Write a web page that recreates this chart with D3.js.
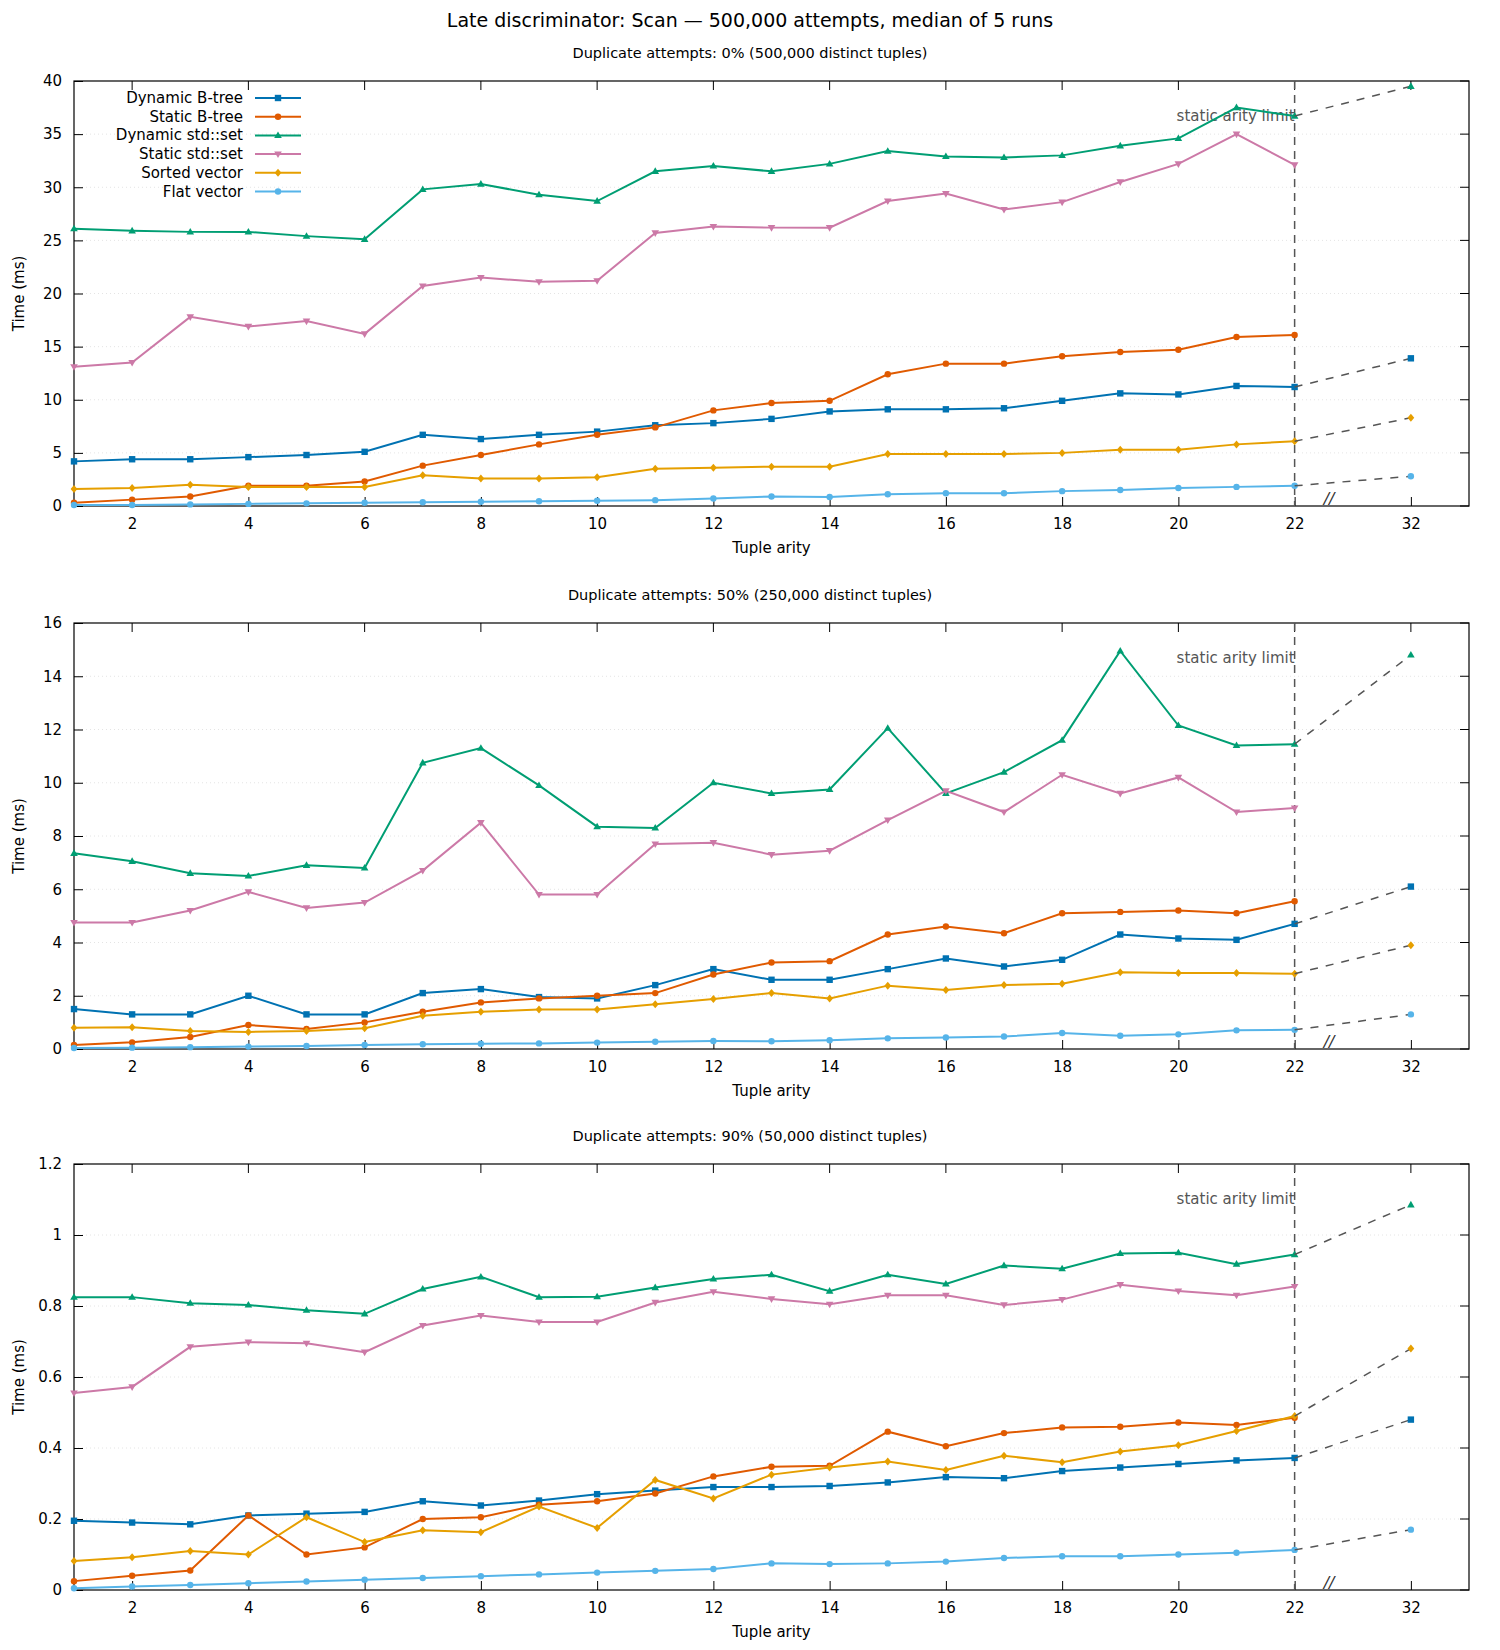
<!DOCTYPE html>
<html><head><meta charset="utf-8">
<script src="https://cdn.jsdelivr.net/npm/d3@7"></script>
<style>body{margin:0;background:#fff}text{font-family:"DejaVu Sans",sans-serif}</style>
</head><body><svg id="c" width="1500" height="1650"></svg>
<script>
const arities = d3.range(1, 23);
const extArity = 32;
const seriesNames = ["Dynamic B-tree","Static B-tree","Dynamic std::set","Static std::set","Sorted vector","Flat vector"];
const colors = ["#0072b2","#e05a00","#009e73","#cc79a7","#e69f00","#56b4e9"];
const markers = ["square","circle","triUp","triDown","diamond","circle"];
const hasExt = [true,false,true,false,true,true];
const subtitles = ["Duplicate attempts: 0% (500,000 distinct tuples)","Duplicate attempts: 50% (250,000 distinct tuples)","Duplicate attempts: 90% (50,000 distinct tuples)"];
const yMax = [40,16,1.2];
const yTicks = [[0,5,10,15,20,25,30,35,40],[0,2,4,6,8,10,12,14,16],[0,0.2,0.4,0.6,0.8,1,1.2]];
const xTickArities = [2,4,6,8,10,12,14,16,18,20,22,32];

const p1 = [
 [4.2,4.4,4.4,4.6,4.8,5.1,6.7,6.3,6.7,7.0,7.6,7.8,8.2,8.9,9.1,9.1,9.2,9.9,10.6,10.5,11.3,11.2],
 [0.3,0.6,0.9,1.9,1.9,2.3,3.8,4.8,5.8,6.7,7.4,9.0,9.7,9.9,12.4,13.4,13.4,14.1,14.5,14.7,15.9,16.1],
 [26.1,25.9,25.8,25.8,25.4,25.1,29.8,30.3,29.3,28.7,31.5,32.0,31.5,32.2,33.4,32.9,32.8,33.0,33.9,34.6,37.5,36.7],
 [13.1,13.5,17.8,16.9,17.4,16.2,20.7,21.5,21.1,21.2,25.7,26.3,26.2,26.2,28.7,29.4,27.9,28.6,30.5,32.2,35.0,32.1],
 [1.6,1.7,2.0,1.8,1.8,1.8,2.9,2.6,2.6,2.7,3.5,3.6,3.7,3.7,4.9,4.9,4.9,5.0,5.3,5.3,5.8,6.1],
 [0.1,0.1,0.15,0.2,0.25,0.3,0.35,0.4,0.45,0.5,0.55,0.7,0.9,0.85,1.1,1.2,1.2,1.4,1.5,1.7,1.8,1.9]];
const p1Ext = [13.9,null,39.5,null,8.3,2.8];
const p2 = [
 [1.5,1.3,1.3,2.0,1.3,1.3,2.1,2.25,1.95,1.9,2.4,3.0,2.6,2.6,3.0,3.4,3.1,3.35,4.3,4.15,4.1,4.7],
 [0.15,0.25,0.45,0.9,0.75,1.0,1.4,1.75,1.9,2.0,2.1,2.8,3.25,3.3,4.3,4.6,4.35,5.1,5.15,5.2,5.1,5.55],
 [7.35,7.05,6.6,6.5,6.9,6.8,10.75,11.3,9.9,8.35,8.3,10.0,9.6,9.75,12.05,9.6,10.4,11.6,14.95,12.15,11.4,11.45],
 [4.75,4.75,5.2,5.9,5.3,5.5,6.7,8.5,5.8,5.8,7.7,7.75,7.3,7.45,8.6,9.7,8.9,10.3,9.6,10.2,8.9,9.05],
 [0.8,0.82,0.68,0.64,0.68,0.78,1.25,1.4,1.48,1.48,1.68,1.88,2.1,1.9,2.38,2.22,2.4,2.45,2.88,2.85,2.85,2.83],
 [0.04,0.05,0.07,0.09,0.11,0.15,0.18,0.2,0.21,0.24,0.27,0.3,0.29,0.33,0.4,0.43,0.47,0.6,0.5,0.55,0.7,0.72]];
const p2Ext = [6.1,null,14.8,null,3.9,1.3];
const p3 = [
 [0.195,0.19,0.185,0.21,0.215,0.22,0.25,0.238,0.252,0.27,0.28,0.29,0.29,0.293,0.303,0.318,0.315,0.335,0.345,0.355,0.365,0.372],
 [0.025,0.04,0.055,0.21,0.1,0.12,0.2,0.205,0.24,0.25,0.272,0.32,0.347,0.35,0.446,0.405,0.442,0.458,0.46,0.472,0.465,0.485],
 [0.825,0.825,0.808,0.803,0.788,0.778,0.848,0.882,0.825,0.826,0.852,0.876,0.888,0.842,0.888,0.862,0.914,0.905,0.948,0.95,0.918,0.945],
 [0.555,0.572,0.685,0.698,0.695,0.67,0.745,0.773,0.755,0.755,0.81,0.84,0.82,0.805,0.83,0.83,0.803,0.818,0.86,0.842,0.83,0.855],
 [0.082,0.092,0.11,0.1,0.205,0.135,0.168,0.163,0.235,0.175,0.31,0.258,0.325,0.345,0.362,0.338,0.378,0.36,0.39,0.408,0.448,0.49],
 [0.005,0.01,0.014,0.019,0.024,0.029,0.034,0.039,0.044,0.049,0.054,0.059,0.075,0.073,0.075,0.08,0.09,0.095,0.095,0.1,0.105,0.113]];
const p3Ext = [0.48,null,1.085,null,0.68,0.17];
const panelData = [p1,p2,p3], panelExt = [p1Ext,p2Ext,p3Ext];

const svg = d3.select("#c");
const L = 74, R = 1469;
const tops = [81,623,1164], bots = [506,1049,1590];
const pos = a => a === extArity ? 24 : a;
const x = d3.scaleLinear().domain([1,25]).range([L,R]);

svg.append("text").attr("x",750).attr("y",27).attr("text-anchor","middle").attr("font-size",19).text("Late discriminator: Scan — 500,000 attempts, median of 5 runs");

function marker(g, type, cx, cy, col) {
  const s = 3.2;
  if (type==="square") g.append("rect").attr("x",cx-s).attr("y",cy-s).attr("width",2*s).attr("height",2*s).attr("fill",col);
  else if (type==="circle") g.append("circle").attr("cx",cx).attr("cy",cy).attr("r",3.2).attr("fill",col);
  else if (type==="triUp") g.append("path").attr("d",`M${cx},${cy-4}L${cx+3.8},${cy+2.6}L${cx-3.8},${cy+2.6}Z`).attr("fill",col);
  else if (type==="triDown") g.append("path").attr("d",`M${cx},${cy+4}L${cx+3.8},${cy-2.6}L${cx-3.8},${cy-2.6}Z`).attr("fill",col);
  else g.append("path").attr("d",`M${cx},${cy-4}L${cx+3.4},${cy}L${cx},${cy+4}L${cx-3.4},${cy}Z`).attr("fill",col);
}

panelData.forEach((data, pi) => {
  const T = tops[pi], B = bots[pi];
  const y = d3.scaleLinear().domain([0,yMax[pi]]).range([B,T]);
  const g = svg.append("g");
  g.append("text").attr("x",750).attr("y",T-23).attr("text-anchor","middle").attr("font-size",14.5).text(subtitles[pi]);
  // grid
  yTicks[pi].forEach(t => {
    if (t>0 && t<yMax[pi]) g.append("line").attr("x1",L).attr("x2",R).attr("y1",y(t)).attr("y2",y(t)).attr("stroke","#ddd").attr("stroke-width",0.8).attr("stroke-dasharray","1,3");
  });
  // y ticks
  const yAx = g.append("g").attr("transform",`translate(${L},0)`).call(d3.axisLeft(y).tickValues(yTicks[pi]).tickSize(-9).tickPadding(12).tickFormat(d3.format("~g")));
  yAx.select(".domain").remove();
  yAx.selectAll("text").attr("font-size",15).attr("font-family","DejaVu Sans");
  yAx.selectAll("line").attr("stroke","#000");
  yTicks[pi].forEach(t => g.append("line").attr("x1",R-9).attr("x2",R).attr("y1",y(t)).attr("y2",y(t)).attr("stroke","#000"));
  // x ticks
  const xs = d3.scaleLinear().domain([1,25]).range([L,R]);
  const xAx = g.append("g").attr("transform",`translate(0,${B})`).call(d3.axisBottom(xs).tickValues(xTickArities.map(pos)).tickSize(-9).tickPadding(12).tickFormat(v => v===24 ? "32" : v));
  xAx.select(".domain").remove();
  xAx.selectAll("text").attr("font-size",15).attr("font-family","DejaVu Sans");
  xAx.selectAll("line").attr("stroke","#000");
  xTickArities.forEach(a => g.append("line").attr("x1",x(pos(a))).attr("x2",x(pos(a))).attr("y1",T).attr("y2",T+9).attr("stroke","#000"));
  g.append("rect").attr("x",L).attr("y",T).attr("width",R-L).attr("height",B-T).attr("fill","none").attr("stroke","#000").attr("stroke-width",1.2);
  g.append("text").attr("x",(L+R)/2).attr("y",B+47).attr("text-anchor","middle").attr("font-size",15).text("Tuple arity");
  g.append("text").attr("transform",`translate(24,${(T+B)/2}) rotate(-90)`).attr("text-anchor","middle").attr("font-size",15).text("Time (ms)");
  // static limit
  g.append("line").attr("x1",x(22)).attr("x2",x(22)).attr("y1",T).attr("y2",B).attr("stroke","#555").attr("stroke-width",1.5).attr("stroke-dasharray","8,6");
  g.append("text").attr("x",x(22)).attr("y",T+40).attr("text-anchor","end").attr("font-size",15).attr("fill","#555").text("static arity limit");
  g.append("text").attr("x",x(22.5)).attr("y",B-2).attr("font-size",16).attr("font-style","italic").attr("fill","#333").text("//");
  // series
  const line = d3.line().x((d,i)=>x(arities[i])).y(d=>y(d));
  data.forEach((vals, si) => {
    g.append("path").attr("d",line(vals)).attr("fill","none").attr("stroke",colors[si]).attr("stroke-width",2);
    vals.forEach((v,i)=>marker(g,markers[si],x(arities[i]),y(v),colors[si]));
    const e = panelExt[pi][si];
    if (hasExt[si] && e!=null) {
      g.append("line").attr("x1",x(22)).attr("y1",y(vals[21])).attr("x2",x(pos(extArity))).attr("y2",y(e)).attr("stroke","#555").attr("stroke-width",1.5).attr("stroke-dasharray","8,8");
      marker(g,markers[si],x(pos(extArity)),y(e),colors[si]);
    }
  });
  if (pi===0) {
    seriesNames.forEach((n,si)=>{
      const ly = 98 + si*18.7;
      g.append("text").attr("x",243).attr("y",ly+5).attr("text-anchor","end").attr("font-size",15).text(n);
      g.append("line").attr("x1",255).attr("x2",301).attr("y1",ly).attr("y2",ly).attr("stroke",colors[si]).attr("stroke-width",2);
      marker(g,markers[si],278,ly,colors[si]);
    });
  }
});
</script></body></html>
